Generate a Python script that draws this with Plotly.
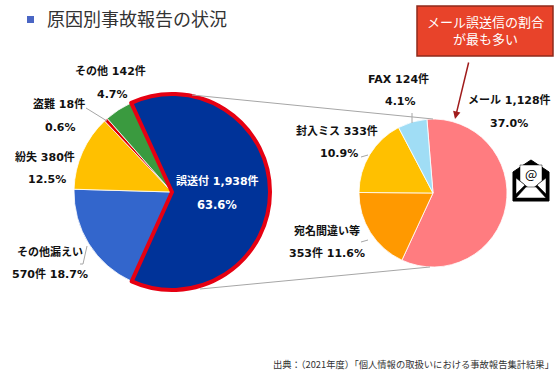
import plotly.graph_objects as go

W, H = 560, 380

left_labels = ["その他漏えい", "紛失", "盗難", "その他", "誤送付"]
left_values = [570, 380, 18, 142, 1938]
left_colors = ["#3366CC", "#FFC000", "#E00000", "#3A9A3F", "#003399"]

right_labels = ["メール", "宛名間違い等", "封入ミス", "FAX"]
right_values = [1128, 353, 333, 124]
right_colors = ["#FF7C80", "#FF9900", "#FFC000", "#A0DDF5"]

FONT = "Noto Sans CJK JP"
BOLD_FONT = "DejaVu Sans, Noto Sans CJK JP"


def px(x):
    return x / W


def py(y):
    return 1 - y / H


def dom(cx, cy, r):
    return dict(x=[px(cx - r), px(cx + r)], y=[py(cy + r), py(cy - r)])


fig = go.Figure()
fig.add_trace(go.Pie(
    labels=left_labels, values=left_values, sort=False, direction="clockwise",
    rotation=204.3, textinfo="none", showlegend=False, hoverinfo="label+value",
    domain=dom(172, 192, 98),
    marker=dict(colors=left_colors,
                line=dict(color=["#FFFFFF"] * 4 + ["#E60012"], width=[0.8] * 4 + [4])),
))
fig.add_trace(go.Pie(
    labels=right_labels, values=right_values, sort=False, direction="clockwise",
    rotation=355.3, textinfo="none", showlegend=False, hoverinfo="label+value",
    domain=dom(433, 193, 74),
    marker=dict(colors=right_colors, line=dict(color="#FFFFFF", width=0.8)),
))


def pline(x0, y0, x1, y1, color="#A6A6A6", width=1):
    return dict(type="line", xref="paper", yref="paper", x0=px(x0), y0=py(y0),
                x1=px(x1), y1=py(y1), line=dict(color=color, width=width))


def ppath(points, fill=None, color="#000000", width=2, close=True):
    d = "M " + " L ".join(f"{px(x):.5f},{py(y):.5f}" for x, y in points) + (" Z" if close else "")
    return dict(type="path", xref="paper", yref="paper", path=d,
                fillcolor=fill if fill else "rgba(0,0,0,0)", line=dict(color=color, width=width))


shapes = [
    pline(192, 95, 433, 119),
    pline(200, 289, 430, 267),
    pline(86, 108, 107, 121),
    pline(87, 246, 83, 264),
    pline(83, 264, 80, 264),
    pline(368, 240, 361, 242),
    pline(361, 157, 368, 155),
    pline(412, 113, 412, 123),
    dict(type="rect", xref="paper", yref="paper", x0=px(27), x1=px(34), y0=py(23), y1=py(16),
         fillcolor="#4A66C4", line=dict(width=0)),
    dict(type="rect", xref="paper", yref="paper", x0=px(417), x1=px(553), y0=py(6), y1=py(56),
         fillcolor="#E8432A", line=dict(color="#8E2A1B", width=1.5)),
    ppath([(513, 172), (531, 160), (549, 172), (549, 201), (513, 201)], fill="#000000", width=1),
    ppath([(520, 165), (542, 165), (542, 181), (531, 190), (520, 181)], fill="#FFFFFF", width=0.5),
    ppath([(516, 198), (526, 187), (536, 187), (546, 198)], fill="#FFFFFF", width=0.5),
    ppath([(516, 178), (516, 194), (525, 185)], fill="#FFFFFF", width=0.5),
    ppath([(546, 178), (546, 194), (537, 185)], fill="#FFFFFF", width=0.5),
]


def t(x, y, s, size=11, color="#111111", bold=True, anchor="center"):
    return dict(xref="paper", yref="paper", x=px(x), y=py(y), text=f"<b>{s}</b>" if bold else s,
                showarrow=False, xanchor=anchor, yanchor="middle",
                font=dict(family=BOLD_FONT if bold else FONT, size=size, color=color))


annotations = [
    t(45, 18, "原因別事故報告の状況", size=18, bold=False, color="#333333", anchor="left"),
    t(110, 71, "その他 142件"),
    t(112, 94, "4.7%"),
    t(59, 104, "盗難 18件"),
    t(60, 127, "0.6%"),
    t(45, 157, "紛失 380件"),
    t(47, 179, "12.5%"),
    t(217, 181, "誤送付 1,938件", color="#FFFFFF"),
    t(217, 205, "63.6%", size=11.5, color="#FFFFFF"),
    t(50, 252, "その他漏えい"),
    t(50, 274, "570件 18.7%"),
    t(398, 79, "FAX 124件"),
    t(400, 102, "4.1%"),
    t(337, 131, "封入ミス 333件"),
    t(339, 154, "10.9%"),
    t(509, 100, "メール 1,128件"),
    t(509, 123, "37.0%"),
    t(327, 231, "宛名間違い等"),
    t(327, 253, "353件 11.6%"),
    t(485, 30, "メール誤送信の割合<br>が最も多い", size=13, color="#FFFFFF", bold=False),
    t(556, 364, "出典：（2021年度）「個人情報の取扱いにおける事故報告集計結果」", size=9.3,
      color="#333333", bold=False, anchor="right"),
    t(531, 173, "@", size=13, color="#000000", bold=False),
    dict(xref="paper", yref="paper", x=px(455), y=py(119), ax=14, ay=-58, text="",
         showarrow=True, arrowhead=2, arrowsize=1, arrowwidth=1.5, arrowcolor="#A01C1C"),
]

fig.update_layout(
    width=W, height=H, margin=dict(l=0, r=0, t=0, b=0), paper_bgcolor="#FFFFFF",
    font=dict(family=FONT), shapes=shapes, annotations=annotations, showlegend=False,
)
fig.write_html("out.html", config={"displayModeBar": False},
               post_script="document.body.style.margin='0';")
